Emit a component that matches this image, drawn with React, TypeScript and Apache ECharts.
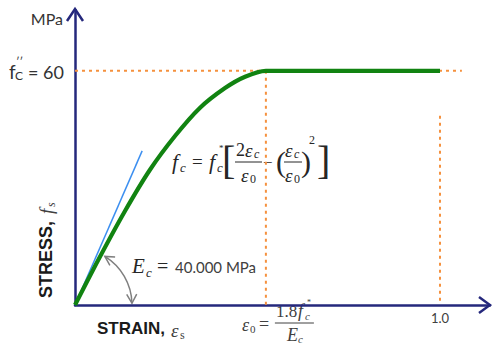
import React, { useEffect, useRef } from "react";
import * as echarts from "echarts";

// ---- data ----
const curveStrain = [0, 0.068, 0.137, 0.205, 0.274, 0.342, 0.411, 0.466, 0.523, 0.6, 1.0];
const curveStress = [0, 12.3, 24.1, 34.6, 43.3, 50.5, 55.6, 58.5, 60, 60, 60];
const tangentStrain = [0, 0.184];
const tangentStress = [0, 39.5];
const peakLineStrain = [0, 1.06];
const peakLineStress = [60, 60];
const e0LineStrain = [0.523, 0.523];
const e0LineStress = [60, 0];
const unitLineStrain = [1, 1];
const unitLineStress = [48.5, 0.8];
const xMax = 1.137;
const yMax = 75.6;
const xTickLabel = "1.0";
const yUnitLabel = "MPa";
const peakLabel = "= 60";
const ecValueLabel = "40.000 MPa";
const e0Value = 0.523;
const peakValue = 60;

const NAVY = "#25287c";
const ORANGE = "#f5913e";
const GREEN = "#118311";
const BLUE = "#3c8ff0";
const MATH = "'Liberation Serif', 'DejaVu Serif', serif";
const SANS = "Lato, 'Open Sans', sans-serif";
const ARIAL = "'Liberation Sans', Arial, sans-serif";

function txt(x: number, y: number, text: string, size: number, o: any = {}) {
  return {
    type: "text",
    x,
    y,
    silent: true,
    style: {
      text,
      fontSize: size,
      fontFamily: o.family || MATH,
      fontStyle: o.italic ? "italic" : "normal",
      fontWeight: o.bold ? "bold" : "normal",
      fill: o.color || "#262626",
      align: o.align || "left",
      verticalAlign: "middle",
    },
  };
}

function hline(x1: number, x2: number, y: number, color = "#262626", w = 1) {
  return { type: "line", silent: true, shape: { x1, y1: y, x2, y2: y }, style: { stroke: color, lineWidth: w } };
}

function chevron(tip: number[], dir: number[], L: number, W: number, color: string, w: number) {
  const n = [-dir[1], dir[0]];
  return {
    type: "polyline",
    silent: true,
    shape: {
      points: [
        [tip[0] - dir[0] * L + n[0] * W, tip[1] - dir[1] * L + n[1] * W],
        tip,
        [tip[0] - dir[0] * L - n[0] * W, tip[1] - dir[1] * L - n[1] * W],
      ],
    },
    style: { stroke: color, lineWidth: w, fill: "none" },
  };
}

const pairs = (xs: number[], ys: number[]) => xs.map((x, i) => [x, ys[i]]);

export default function App() {
  const ref = useRef<HTMLDivElement>(null);
  useEffect(() => {
    document.body.style.margin = "0";
    const chart = echarts.init(ref.current!, null, { renderer: "svg" });
    const dashed = { type: [3, 4] as any, width: 2, color: ORANGE };
    chart.setOption({
      animation: false,
      grid: { left: 75, right: 2, top: 10, bottom: 44 },
      xAxis: {
        type: "value",
        min: 0,
        max: xMax,
        axisLine: { show: true, onZero: false, lineStyle: { color: NAVY, width: 2.5 } },
        axisTick: { show: false },
        axisLabel: { show: false },
        splitLine: { show: false },
      },
      yAxis: {
        type: "value",
        min: 0,
        max: yMax,
        axisLine: { show: true, onZero: false, lineStyle: { color: NAVY, width: 2.5 } },
        axisTick: { show: false },
        axisLabel: { show: false },
        splitLine: { show: false },
      },
      series: [
        { type: "line", data: pairs(peakLineStrain, peakLineStress), symbol: "none", lineStyle: dashed, z: 1 },
        { type: "line", data: pairs(e0LineStrain, e0LineStress), symbol: "none", lineStyle: dashed, z: 1 },
        { type: "line", data: pairs(unitLineStrain, unitLineStress), symbol: "none", lineStyle: dashed, z: 1 },
        { type: "line", data: pairs(tangentStrain, tangentStress), symbol: "none", lineStyle: { color: BLUE, width: 1.5 }, z: 2 },
        {
          type: "line",
          data: pairs(curveStrain, curveStress),
          symbol: "none",
          smooth: 0.25,
          lineStyle: { color: GREEN, width: 4.2, cap: "butt" },
          z: 3,
        },
      ],
    });

    const P = (x: number, y: number) => chart.convertToPixel({ gridIndex: 0 }, [x, y]) as number[];
    const O = P(0, 0);
    const top = P(0, yMax);
    const right = P(xMax, 0);
    const pk = P(0, peakValue);
    const e0 = P(e0Value, 0);
    const one = P(1, 0);

    const g: any[] = [];
    // axis arrows
    g.push(chevron([top[0], top[1] - 1], [0, -1], 12, 8, NAVY, 2.5));
    g.push(chevron([right[0], right[1]], [1, 0], 11, 8, NAVY, 2.5));

    // y unit and peak label
    g.push(txt(63, 18, yUnitLabel, 16, { family: SANS, align: "right", color: "#333" }));
    g.push(txt(9, pk[1] + 1, "f", 19, { family: SANS, color: "#333" }));
    g.push(txt(15, pk[1] + 5, "C", 12, { family: SANS, color: "#333" }));
    g.push(txt(16, pk[1] - 9, "′′", 11, { family: SANS, color: "#333" }));
    g.push(txt(64, pk[1] + 1, peakLabel, 18, { family: SANS, align: "right", color: "#333" }));

    // main formula  f_c = f_c* [ 2εc/ε0 − (εc/ε0)^2 ]
    const fy = 161;
    g.push(txt(172, fy, "f", 22, { italic: true }));
    g.push(txt(180, fy + 6, "c", 13, { italic: true }));
    g.push(txt(192, fy, "=", 19));
    g.push(txt(209, fy, "f", 22, { italic: true }));
    g.push(txt(217, fy + 6, "c", 13, { italic: true }));
    g.push(txt(219, fy - 13, "*", 9));
    g.push(txt(222, fy - 1, "[", 40));
    g.push(txt(236, fy - 11, "2", 18));
    g.push(txt(245, fy - 11, "ε", 19, { italic: true }));
    g.push(txt(254, fy - 7, "c", 12, { italic: true }));
    g.push(hline(235, 262, fy + 1));
    g.push(txt(241, fy + 14, "ε", 19, { italic: true }));
    g.push(txt(250, fy + 18, "0", 12));
    g.push(txt(263, fy + 1, "−", 17));
    g.push(txt(276, fy, "(", 30));
    g.push(txt(285, fy - 11, "ε", 19, { italic: true }));
    g.push(txt(294, fy - 7, "c", 12, { italic: true }));
    g.push(hline(284, 302, fy + 1));
    g.push(txt(285, fy + 14, "ε", 19, { italic: true }));
    g.push(txt(294, fy + 18, "0", 12));
    g.push(txt(301, fy, ")", 30));
    g.push(txt(309, fy - 21, "2", 12));
    g.push(txt(317, fy - 1, "]", 40));

    // Ec label
    const ey = 266;
    g.push(txt(132, ey, "E", 21, { italic: true }));
    g.push(txt(146, ey + 6, "c", 13, { italic: true }));
    g.push(txt(157, ey, "=", 20));
    g.push(txt(175, ey + 1, ecValueLabel, 15, { family: SANS, color: "#404040" }));

    // Ec arc with arrowheads
    const r = 57;
    const a1 = -1.02;
    const a2 = -0.03;
    g.push({
      type: "arc",
      silent: true,
      shape: { cx: O[0], cy: O[1], r, startAngle: a1, endAngle: a2, clockwise: true },
      style: { stroke: "#7f7f7f", lineWidth: 1.5, fill: "none" },
    });
    const p1 = [O[0] + r * Math.cos(a1), O[1] + r * Math.sin(a1)];
    const p2 = [O[0] + r * Math.cos(a2), O[1] + r * Math.sin(a2)];
    g.push(chevron(p1, [Math.sin(a1), -Math.cos(a1)], 9, 5, "#7f7f7f", 1.5));
    g.push(chevron(p2, [-Math.sin(a2), Math.cos(a2)], 9, 5, "#7f7f7f", 1.5));

    // STRESS, f_s (vertical)
    g.push({
      type: "group",
      x: 46,
      y: 298,
      rotation: Math.PI / 2,
      children: [
        txt(0, 0, "STRESS,", 18, { family: ARIAL, bold: true, color: "#1a1a1a" }),
        txt(84, 0, "f", 19, { italic: true, color: "#404040" }),
        txt(91, 5, "s", 12, { italic: true, color: "#404040" }),
      ],
    });

    // STRAIN, ε_s
    g.push(txt(97, 328, "STRAIN,", 17, { family: ARIAL, bold: true, color: "#1a1a1a" }));
    g.push(txt(171, 330, "ε", 19, { italic: true, color: "#404040" }));
    g.push(txt(180, 335, "s", 12, { color: "#404040" }));

    // ε0 = 1.8 fc* / Ec
    const bx = e0[0];
    g.push(txt(bx - 24, 325, "ε", 18, { italic: true, color: "#404040" }));
    g.push(txt(bx - 16, 329, "0", 11, { color: "#404040" }));
    g.push(txt(bx - 7, 324, "=", 18, { color: "#404040" }));
    g.push(txt(bx + 10, 311, "1.8", 17, { color: "#404040" }));
    g.push(txt(bx + 32, 311, "f", 18, { italic: true, color: "#404040" }));
    g.push(txt(bx + 39, 316, "c", 11, { italic: true, color: "#404040" }));
    g.push(txt(bx + 41, 302, "*", 8, { color: "#404040" }));
    g.push(hline(bx + 9, bx + 48, 323, "#404040"));
    g.push(txt(bx + 21, 335, "E", 18, { italic: true, color: "#404040" }));
    g.push(txt(bx + 32, 339, "c", 11, { italic: true, color: "#404040" }));

    // tick label 1.0
    g.push(txt(one[0], 318, xTickLabel, 13, { family: SANS, align: "center", color: "#404040" }));

    chart.setOption({ graphic: g });
    return () => chart.dispose();
  }, []);
  return <div ref={ref} style={{ width: 492, height: 349 }} />;
}
